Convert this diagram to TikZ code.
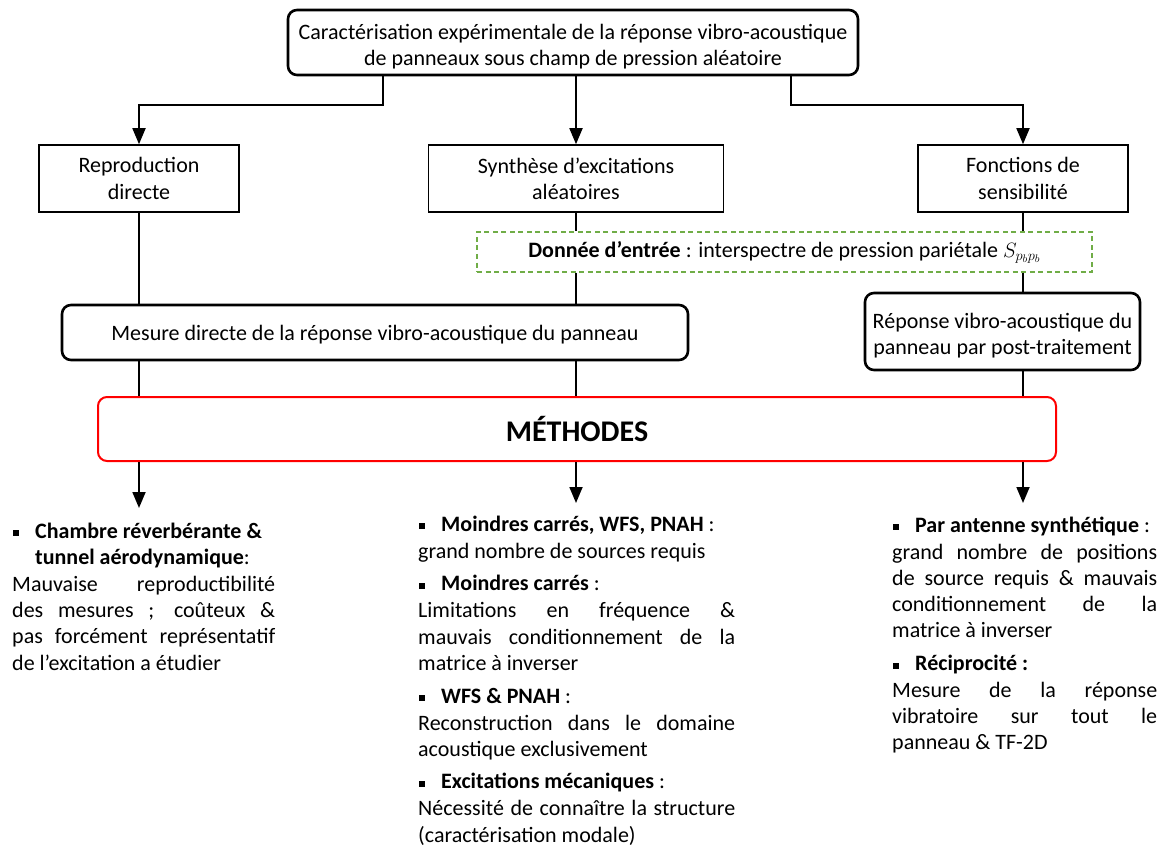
\documentclass[tikz,border=0pt]{standalone}
\usepackage{fontspec}
\setmainfont{Carlito}
\usetikzlibrary{arrows.meta,calc}
\definecolor{dgreen}{HTML}{70AD47}
\hbadness=10000
\newcommand\bsq{\rule[2pt]{6pt}{6pt}}
\newcommand\bitem[1]{{\leftskip=23pt\noindent\hspace*{-23pt}\makebox[23pt][l]{\hspace{1pt}\bsq}\strut#1\par}\vspace{0.8pt}}
\newcommand\bitemv[1]{\vspace{6.5pt}\bitem{#1}}
\begin{document}
\begin{tikzpicture}[x=1pt,y=-1pt,
  every node/.style={font=\fontsize{22}{26.2}\selectfont, inner sep=0pt},
  rbox/.style={draw, rounded corners=9pt, line width=2.6pt, align=center},
  sbox/.style={draw, line width=1.6pt, align=center},
  txt/.style={align=center},
  conn/.style={line width=1.8pt},
  arr/.style={conn, -{Triangle[length=16pt,width=13pt]}},
  col/.style={anchor=north west, align=justify}]
\path[use as bounding box] (0,0) rectangle (1168,848);

\node[rbox, minimum width=570pt, minimum height=65pt] (top) at (573,42.5) {};
\node[txt] (toptxt) at ($(top.center)+(0,4)$)
  {Caractérisation expérimentale de la réponse vibro-acoustique\\de panneaux sous champ de pression aléatoire};
\node[sbox, minimum width=200pt, minimum height=67pt] (rep) at (139,178.5) {Reproduction\\directe};
\node[sbox, minimum width=295pt, minimum height=67pt] (syn) at (576,178.5) {Synthèse d’excitations\\aléatoires};
\node[sbox, minimum width=210pt, minimum height=67pt] (fon) at (1023,178.5) {Fonctions de\\sensibilité};
\node[draw=dgreen, dash pattern=on 5pt off 3.5pt, line width=1.3pt, minimum width=615pt, minimum height=40pt] (don) at (784.5,252)
  {\textbf{Donnée d’entrée} : interspectre de pression pariétale $S_{p_b p_b}$};
\node[rbox, minimum width=626pt, minimum height=55pt] (mes) at (375,332.5) {};
\node[txt] (mestxt) at ($(mes.center)+(0,2)$) {Mesure directe de la réponse vibro-acoustique du panneau};
\node[rbox, minimum width=275pt, minimum height=77pt] (rpp) at (1002.5,331.5) {};
\node[txt] (rpptxt) at ($(rpp.center)+(0,4)$) {Réponse vibro-acoustique du\\panneau par post-traitement};
\node[draw=red, rounded corners=9pt, line width=2pt, minimum width=958pt, minimum height=64pt, font=\fontsize{30}{36}\selectfont\bfseries] (met) at (577,429) {MÉTHODES};

\coordinate (k1) at (383,105);
\coordinate (k2) at (791,105);
\draw[arr] (top.south -| k1) -- (k1) -| (rep.north);
\draw[arr] (top.south -| syn.north) -- (syn.north);
\draw[arr] (top.south -| k2) -- (k2) -| (fon.north);

\draw[conn] (rep.south) -- (rep.south |- mes.north);
\draw[conn] (syn.south) -- (syn.south |- don.north);
\draw[conn] (syn.south |- don.south) -- (syn.south |- mes.north);
\draw[conn] (fon.south) -- (fon.south |- don.north);
\draw[conn] (fon.south |- don.south) -- (fon.south |- rpp.north);
\draw[conn] (rep.south |- mes.south) -- (rep.south |- met.north);
\draw[conn] (syn.south |- mes.south) -- (syn.south |- met.north);
\draw[conn] (fon.south |- rpp.south) -- (fon.south |- met.north);

\coordinate (e1) at (139,508);
\coordinate (e2) at (576,503);
\coordinate (e3) at (1023,503);
\draw[arr] (met.south -| e1) -- (e1);
\draw[arr] (met.south -| e2) -- (e2);
\draw[arr] (met.south -| e3) -- (e3);

\node[col, text width=263pt] (c1) at (12,519.7) {%
\bitem{\textbf{Chambre réverbérante \&}\newline\textbf{tunnel aérodynamique}:}
Mauvaise reproductibilité\linebreak des mesures ; coûteux \&\linebreak pas forcément représentatif\linebreak de l’excitation a étudier\par};

\node[col, text width=317pt] (c2) at (418,512.7) {%
\bitem{\textbf{Moindres carrés, WFS, PNAH} :}
grand nombre de sources requis\par
\bitemv{\textbf{Moindres carrés} :}
Limitations en fréquence \&\linebreak mauvais conditionnement de la\linebreak matrice à inverser\par
\bitemv{\textbf{WFS \& PNAH} :}
Reconstruction dans le domaine\linebreak acoustique exclusivement\par
\bitemv{\textbf{Excitations mécaniques} :}
Nécessité de connaître la structure\linebreak (caractérisation modale)\par};

\node[col, text width=265pt] (c3) at (892,513.7) {%
\bitem{\textbf{Par antenne synthétique} :}
grand nombre de positions\linebreak de source requis \& mauvais\linebreak conditionnement de la\linebreak matrice à inverser\par
\bitemv{\textbf{Réciprocité :}}
Mesure de la réponse\linebreak vibratoire sur tout le\linebreak panneau \& TF-2D\par};
\end{tikzpicture}
\end{document}
